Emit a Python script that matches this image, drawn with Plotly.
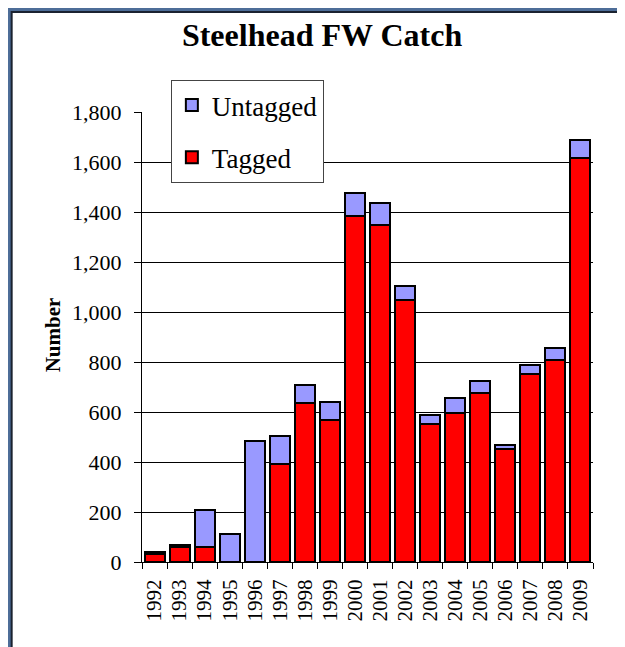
import plotly.graph_objects as go

years = ['1992', '1993', '1994', '1995', '1996', '1997', '1998', '1999', '2000',
         '2001', '2002', '2003', '2004', '2005', '2006', '2007', '2008', '2009']
tagged = [32, 60, 60, 0, 0, 393, 636, 570, 1384, 1347, 1050, 551, 597, 677, 453, 751, 807, 1617]
untagged = [8, 8, 149, 112, 486, 110, 71, 70, 94, 91, 54, 36, 60, 46, 14, 37, 48, 73]

SERIF = 'Liberation Serif'

fig = go.Figure(data=[
    go.Bar(
        x=years,
        y=tagged,
        name='Tagged',
        legendgroup='t',
        legendrank=2,
        marker=dict(color='#FF0000', line=dict(color='black', width=2))
    ),
    go.Bar(
        x=years,
        y=untagged,
        name='Untagged',
        legendgroup='u',
        legendrank=1,
        marker=dict(color='#9999FF', line=dict(color='black', width=2))
    ),
])

# white panel on the blue frame
fig.add_shape(type='rect', xref='paper', yref='paper',
              x0=-0.289, x1=1.1, y0=-0.25, y1=1.222,
              fillcolor='white', line=dict(color='#1a2230', width=2),
              layer='below')

fig.add_annotation(
    text='<b>Number</b>', xref='paper', yref='paper',
    x=-0.197, y=0.504, xanchor='center', yanchor='middle',
    textangle=-90, showarrow=False,
    font=dict(family=SERIF, size=21, color='black')
)

fig.update_layout(
    width=617,
    height=639,
    barmode='stack',
    bargap=0.2,
    paper_bgcolor='#4d6d98',
    plot_bgcolor='white',
    font=dict(family=SERIF, color='black', size=22),
    title=dict(
        text='<b>Steelhead FW Catch</b>',
        x=0.509, y=0.958, xanchor='center', yanchor='middle',
        font=dict(family=SERIF, size=32, color='black')
    ),
    legend=dict(
        x=0.064, y=1.071, xanchor='left', yanchor='top',
        traceorder='grouped',
        tracegroupgap=14,
        bgcolor='white',
        bordercolor='#444444',
        borderwidth=1,
        font=dict(family=SERIF, size=27, color='black')
    ),
    xaxis=dict(
        showgrid=False, showline=True, linecolor='black', linewidth=1,
        ticks='outside', tickson='boundaries', ticklen=6, tickcolor='black',
        tickmode='array', tickvals=years, ticktext=years,
        tickangle=-90, tickfont=dict(family=SERIF, size=21, color='black'),
        ticklabelstandoff=8
    ),
    yaxis=dict(
        range=[0, 1800], dtick=200, tickformat=',d',
        showgrid=True, gridcolor='black', gridwidth=1,
        showline=True, linecolor='black', linewidth=1,
        ticks='outside', ticklen=7, tickcolor='black',
        tickfont=dict(family=SERIF, size=22, color='black'),
        zeroline=False, ticklabelstandoff=8
    ),
    margin=dict(l=134, r=32, t=104, b=85)
)

fig.write_html("out.html")
